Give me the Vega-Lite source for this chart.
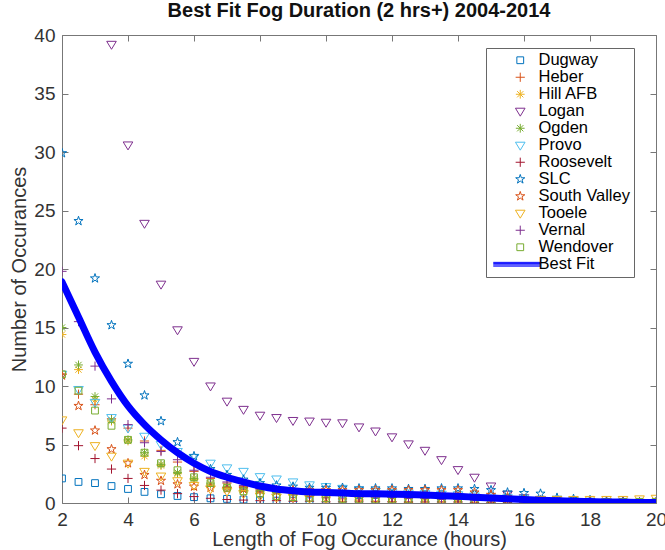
{
"$schema": "https://vega.github.io/schema/vega-lite/v6.json",
"width": 594, "height": 468,
"autosize": "none",
"padding": {"left": 62, "top": 35, "right": 9, "bottom": 47},
"background": "white",
"title": {"text": "Best Fit Fog Duration (2 hrs+) 2004-2014", "font": "Liberation Sans", "fontSize": 20, "fontWeight": "bold", "color": "#111111", "offset": 5, "anchor": "middle"},
"config": {
 "view": {"stroke": null},
 "axis": {"domainColor": "#777777", "tickColor": "#777777", "tickSize": -6, "grid": false, "labelFont": "Liberation Sans", "labelFontSize": 19, "labelColor": "#333333", "titleFont": "Liberation Sans", "titleFontSize": 20, "titleFontWeight": "normal", "titleColor": "#333333", "labelFlush": false, "labelOverlap": false},
 "axisBottom": {"labelPadding": 13, "titlePadding": 0},
 "axisLeft": {"labelPadding": 13, "titlePadding": 4}
},
"datasets": {
"fit": [
{"hours":2,"count":18.9},{"hours":2.5,"count":15.9},{"hours":3,"count":12.9},{"hours":3.5,"count":10.4},{"hours":4,"count":8.3},{"hours":4.5,"count":6.7},{"hours":5,"count":5.4},{"hours":5.5,"count":4.3},{"hours":6,"count":3.4},{"hours":6.5,"count":2.7},{"hours":7,"count":2.2},{"hours":7.5,"count":1.8},{"hours":8,"count":1.45},{"hours":8.5,"count":1.2},{"hours":9,"count":1.05},{"hours":9.5,"count":0.95},{"hours":10,"count":0.9},{"hours":10.5,"count":0.85},{"hours":11,"count":0.8},{"hours":11.5,"count":0.78},{"hours":12,"count":0.75},{"hours":12.5,"count":0.72},{"hours":13,"count":0.68},{"hours":13.5,"count":0.63},{"hours":14,"count":0.57},{"hours":14.5,"count":0.5},{"hours":15,"count":0.43},{"hours":15.5,"count":0.36},{"hours":16,"count":0.3},{"hours":16.5,"count":0.24},{"hours":17,"count":0.19},{"hours":17.5,"count":0.15},{"hours":18,"count":0.12},{"hours":18.5,"count":0.09},{"hours":19,"count":0.07},{"hours":19.5,"count":0.05},{"hours":20,"count":0.04}
],
"stations": [
{"station":"Dugway","hours":2,"count":2.1},{"station":"Dugway","hours":2.5,"count":1.8},{"station":"Dugway","hours":3,"count":1.7},{"station":"Dugway","hours":3.5,"count":1.45},{"station":"Dugway","hours":4,"count":1.2},{"station":"Dugway","hours":4.5,"count":0.95},{"station":"Dugway","hours":5,"count":0.75},{"station":"Dugway","hours":5.5,"count":0.6},{"station":"Dugway","hours":6,"count":0.5},{"station":"Dugway","hours":6.5,"count":0.4},{"station":"Dugway","hours":7,"count":0.35},{"station":"Dugway","hours":7.5,"count":0.3},{"station":"Dugway","hours":8,"count":0.25},{"station":"Dugway","hours":8.5,"count":0.2},{"station":"Dugway","hours":9,"count":0.2},{"station":"Dugway","hours":9.5,"count":0.15},{"station":"Dugway","hours":10,"count":0.15},{"station":"Dugway","hours":10.5,"count":0.15},{"station":"Dugway","hours":11,"count":0.1},{"station":"Dugway","hours":11.5,"count":0.1},{"station":"Dugway","hours":12,"count":0.1},{"station":"Dugway","hours":12.5,"count":0.1},{"station":"Dugway","hours":13,"count":0.1},{"station":"Dugway","hours":13.5,"count":0.05},{"station":"Dugway","hours":14,"count":0.05},{"station":"Dugway","hours":14.5,"count":0.05},{"station":"Dugway","hours":15,"count":0.05},{"station":"Dugway","hours":15.5,"count":0.05},{"station":"Dugway","hours":16,"count":0},{"station":"Dugway","hours":16.5,"count":0},{"station":"Dugway","hours":17,"count":0},{"station":"Dugway","hours":17.5,"count":0},{"station":"Dugway","hours":18,"count":0},{"station":"Dugway","hours":18.5,"count":0},{"station":"Dugway","hours":19,"count":0},{"station":"Dugway","hours":19.5,"count":0},{"station":"Dugway","hours":20,"count":0},
{"station":"Heber","hours":2,"count":11.0},{"station":"Heber","hours":2.5,"count":9.3},{"station":"Heber","hours":3,"count":8.4},{"station":"Heber","hours":3.5,"count":7.2},{"station":"Heber","hours":4,"count":6.4},{"station":"Heber","hours":4.5,"count":5.3},{"station":"Heber","hours":5,"count":4.5},{"station":"Heber","hours":5.5,"count":3.5},{"station":"Heber","hours":6,"count":2.7},{"station":"Heber","hours":6.5,"count":2.1},{"station":"Heber","hours":7,"count":1.7},{"station":"Heber","hours":7.5,"count":1.4},{"station":"Heber","hours":8,"count":1.1},{"station":"Heber","hours":8.5,"count":0.9},{"station":"Heber","hours":9,"count":0.7},{"station":"Heber","hours":9.5,"count":0.55},{"station":"Heber","hours":10,"count":0.45},{"station":"Heber","hours":10.5,"count":0.35},{"station":"Heber","hours":11,"count":0.25},{"station":"Heber","hours":11.5,"count":0.15},{"station":"Heber","hours":12,"count":0.1},{"station":"Heber","hours":12.5,"count":0.05},{"station":"Heber","hours":13,"count":0},{"station":"Heber","hours":13.5,"count":0},{"station":"Heber","hours":14,"count":0},{"station":"Heber","hours":14.5,"count":0},{"station":"Heber","hours":15,"count":0},{"station":"Heber","hours":15.5,"count":0},{"station":"Heber","hours":16,"count":0},{"station":"Heber","hours":16.5,"count":0},{"station":"Heber","hours":17,"count":0},{"station":"Heber","hours":17.5,"count":0},{"station":"Heber","hours":18,"count":0},{"station":"Heber","hours":18.5,"count":0},{"station":"Heber","hours":19,"count":0},{"station":"Heber","hours":19.5,"count":0},{"station":"Heber","hours":20,"count":0},
{"station":"Hill AFB","hours":2,"count":14.4},{"station":"Hill AFB","hours":2.5,"count":11.4},{"station":"Hill AFB","hours":3,"count":8.8},{"station":"Hill AFB","hours":3.5,"count":7.0},{"station":"Hill AFB","hours":4,"count":5.3},{"station":"Hill AFB","hours":4.5,"count":4.0},{"station":"Hill AFB","hours":5,"count":3.2},{"station":"Hill AFB","hours":5.5,"count":2.5},{"station":"Hill AFB","hours":6,"count":2.0},{"station":"Hill AFB","hours":6.5,"count":1.6},{"station":"Hill AFB","hours":7,"count":1.3},{"station":"Hill AFB","hours":7.5,"count":1.1},{"station":"Hill AFB","hours":8,"count":1.0},{"station":"Hill AFB","hours":8.5,"count":0.9},{"station":"Hill AFB","hours":9,"count":0.9},{"station":"Hill AFB","hours":9.5,"count":0.8},{"station":"Hill AFB","hours":10,"count":0.8},{"station":"Hill AFB","hours":10.5,"count":0.7},{"station":"Hill AFB","hours":11,"count":0.7},{"station":"Hill AFB","hours":11.5,"count":0.6},{"station":"Hill AFB","hours":12,"count":0.6},{"station":"Hill AFB","hours":12.5,"count":0.5},{"station":"Hill AFB","hours":13,"count":0.5},{"station":"Hill AFB","hours":13.5,"count":0.4},{"station":"Hill AFB","hours":14,"count":0.4},{"station":"Hill AFB","hours":14.5,"count":0.3},{"station":"Hill AFB","hours":15,"count":0.3},{"station":"Hill AFB","hours":15.5,"count":0.3},{"station":"Hill AFB","hours":16,"count":0.2},{"station":"Hill AFB","hours":16.5,"count":0.2},{"station":"Hill AFB","hours":17,"count":0.1},{"station":"Hill AFB","hours":17.5,"count":0.1},{"station":"Hill AFB","hours":18,"count":0.1},{"station":"Hill AFB","hours":18.5,"count":0.1},{"station":"Hill AFB","hours":19,"count":0.1},{"station":"Hill AFB","hours":19.5,"count":0.1},{"station":"Hill AFB","hours":20,"count":0.1},
{"station":"Logan","hours":3.5,"count":39.2},{"station":"Logan","hours":4,"count":30.6},{"station":"Logan","hours":4.5,"count":23.9},{"station":"Logan","hours":5,"count":18.7},{"station":"Logan","hours":5.5,"count":14.8},{"station":"Logan","hours":6,"count":12.1},{"station":"Logan","hours":6.5,"count":10.0},{"station":"Logan","hours":7,"count":8.7},{"station":"Logan","hours":7.5,"count":8.0},{"station":"Logan","hours":8,"count":7.5},{"station":"Logan","hours":8.5,"count":7.3},{"station":"Logan","hours":9,"count":7.05},{"station":"Logan","hours":9.5,"count":7.0},{"station":"Logan","hours":10,"count":6.9},{"station":"Logan","hours":10.5,"count":6.85},{"station":"Logan","hours":11,"count":6.5},{"station":"Logan","hours":11.5,"count":6.15},{"station":"Logan","hours":12,"count":5.65},{"station":"Logan","hours":12.5,"count":5.05},{"station":"Logan","hours":13,"count":4.5},{"station":"Logan","hours":13.5,"count":3.7},{"station":"Logan","hours":14,"count":2.85},{"station":"Logan","hours":14.5,"count":2.2},{"station":"Logan","hours":15,"count":1.45},{"station":"Logan","hours":15.5,"count":0.75},{"station":"Logan","hours":16,"count":0.45},{"station":"Logan","hours":16.5,"count":0.3},{"station":"Logan","hours":17,"count":0.2},{"station":"Logan","hours":17.5,"count":0.15},{"station":"Logan","hours":18,"count":0.1},{"station":"Logan","hours":18.5,"count":0.1},{"station":"Logan","hours":19,"count":0.05},{"station":"Logan","hours":19.5,"count":0.05},{"station":"Logan","hours":20,"count":0.05},
{"station":"Ogden","hours":2,"count":15.0},{"station":"Ogden","hours":2.5,"count":11.8},{"station":"Ogden","hours":3,"count":9.1},{"station":"Ogden","hours":3.5,"count":7.1},{"station":"Ogden","hours":4,"count":5.4},{"station":"Ogden","hours":4.5,"count":4.3},{"station":"Ogden","hours":5,"count":3.3},{"station":"Ogden","hours":5.5,"count":2.6},{"station":"Ogden","hours":6,"count":2.1},{"station":"Ogden","hours":6.5,"count":1.7},{"station":"Ogden","hours":7,"count":1.4},{"station":"Ogden","hours":7.5,"count":1.2},{"station":"Ogden","hours":8,"count":1.0},{"station":"Ogden","hours":8.5,"count":0.9},{"station":"Ogden","hours":9,"count":0.8},{"station":"Ogden","hours":9.5,"count":0.8},{"station":"Ogden","hours":10,"count":0.7},{"station":"Ogden","hours":10.5,"count":0.7},{"station":"Ogden","hours":11,"count":0.6},{"station":"Ogden","hours":11.5,"count":0.6},{"station":"Ogden","hours":12,"count":0.5},{"station":"Ogden","hours":12.5,"count":0.5},{"station":"Ogden","hours":13,"count":0.4},{"station":"Ogden","hours":13.5,"count":0.4},{"station":"Ogden","hours":14,"count":0.3},{"station":"Ogden","hours":14.5,"count":0.3},{"station":"Ogden","hours":15,"count":0.2},{"station":"Ogden","hours":15.5,"count":0.2},{"station":"Ogden","hours":16,"count":0.2},{"station":"Ogden","hours":16.5,"count":0.1},{"station":"Ogden","hours":17,"count":0.1},{"station":"Ogden","hours":17.5,"count":0.1},{"station":"Ogden","hours":18,"count":0.1},{"station":"Ogden","hours":18.5,"count":0},{"station":"Ogden","hours":19,"count":0},{"station":"Ogden","hours":19.5,"count":0},{"station":"Ogden","hours":20,"count":0},
{"station":"Provo","hours":2,"count":11.0},{"station":"Provo","hours":2.5,"count":9.7},{"station":"Provo","hours":3,"count":8.6},{"station":"Provo","hours":3.5,"count":7.3},{"station":"Provo","hours":4,"count":6.4},{"station":"Provo","hours":4.5,"count":5.7},{"station":"Provo","hours":5,"count":5.0},{"station":"Provo","hours":5.5,"count":4.4},{"station":"Provo","hours":6,"count":3.9},{"station":"Provo","hours":6.5,"count":3.4},{"station":"Provo","hours":7,"count":3.0},{"station":"Provo","hours":7.5,"count":2.7},{"station":"Provo","hours":8,"count":2.25},{"station":"Provo","hours":8.5,"count":2.05},{"station":"Provo","hours":9,"count":1.8},{"station":"Provo","hours":9.5,"count":1.55},{"station":"Provo","hours":10,"count":1.4},{"station":"Provo","hours":10.5,"count":1.25},{"station":"Provo","hours":11,"count":1.1},{"station":"Provo","hours":11.5,"count":1.0},{"station":"Provo","hours":12,"count":0.9},{"station":"Provo","hours":12.5,"count":0.85},{"station":"Provo","hours":13,"count":0.8},{"station":"Provo","hours":13.5,"count":0.75},{"station":"Provo","hours":14,"count":0.7},{"station":"Provo","hours":14.5,"count":0.6},{"station":"Provo","hours":15,"count":0.5},{"station":"Provo","hours":15.5,"count":0.45},{"station":"Provo","hours":16,"count":0.4},{"station":"Provo","hours":16.5,"count":0.3},{"station":"Provo","hours":17,"count":0.25},{"station":"Provo","hours":17.5,"count":0.2},{"station":"Provo","hours":18,"count":0.15},{"station":"Provo","hours":18.5,"count":0.1},{"station":"Provo","hours":19,"count":0.1},{"station":"Provo","hours":19.5,"count":0.05},{"station":"Provo","hours":20,"count":0.05},
{"station":"Roosevelt","hours":2,"count":6.4},{"station":"Roosevelt","hours":2.5,"count":4.9},{"station":"Roosevelt","hours":3,"count":3.8},{"station":"Roosevelt","hours":3.5,"count":2.9},{"station":"Roosevelt","hours":4,"count":2.1},{"station":"Roosevelt","hours":4.5,"count":1.5},{"station":"Roosevelt","hours":5,"count":1.1},{"station":"Roosevelt","hours":5.5,"count":0.8},{"station":"Roosevelt","hours":6,"count":0.55},{"station":"Roosevelt","hours":6.5,"count":0.4},{"station":"Roosevelt","hours":7,"count":0.3},{"station":"Roosevelt","hours":7.5,"count":0.25},{"station":"Roosevelt","hours":8,"count":0.2},{"station":"Roosevelt","hours":8.5,"count":0.2},{"station":"Roosevelt","hours":9,"count":0.15},{"station":"Roosevelt","hours":9.5,"count":0.15},{"station":"Roosevelt","hours":10,"count":0.1},{"station":"Roosevelt","hours":10.5,"count":0.1},{"station":"Roosevelt","hours":11,"count":0.1},{"station":"Roosevelt","hours":11.5,"count":0.1},{"station":"Roosevelt","hours":12,"count":0.1},{"station":"Roosevelt","hours":12.5,"count":0.1},{"station":"Roosevelt","hours":13,"count":0.1},{"station":"Roosevelt","hours":13.5,"count":0.1},{"station":"Roosevelt","hours":14,"count":0.1},{"station":"Roosevelt","hours":14.5,"count":0.05},{"station":"Roosevelt","hours":15,"count":0.05},{"station":"Roosevelt","hours":15.5,"count":0.05},{"station":"Roosevelt","hours":16,"count":0.05},{"station":"Roosevelt","hours":16.5,"count":0.05},{"station":"Roosevelt","hours":17,"count":0},{"station":"Roosevelt","hours":17.5,"count":0},{"station":"Roosevelt","hours":18,"count":0},{"station":"Roosevelt","hours":18.5,"count":0},{"station":"Roosevelt","hours":19,"count":0},{"station":"Roosevelt","hours":19.5,"count":0},{"station":"Roosevelt","hours":20,"count":0},
{"station":"SLC","hours":2,"count":29.9},{"station":"SLC","hours":2.5,"count":24.1},{"station":"SLC","hours":3,"count":19.2},{"station":"SLC","hours":3.5,"count":15.2},{"station":"SLC","hours":4,"count":11.9},{"station":"SLC","hours":4.5,"count":9.2},{"station":"SLC","hours":5,"count":7.0},{"station":"SLC","hours":5.5,"count":5.2},{"station":"SLC","hours":6,"count":4.0},{"station":"SLC","hours":6.5,"count":2.9},{"station":"SLC","hours":7,"count":2.4},{"station":"SLC","hours":7.5,"count":2.0},{"station":"SLC","hours":8,"count":1.7},{"station":"SLC","hours":8.5,"count":1.5},{"station":"SLC","hours":9,"count":1.4},{"station":"SLC","hours":9.5,"count":1.3},{"station":"SLC","hours":10,"count":1.3},{"station":"SLC","hours":10.5,"count":1.3},{"station":"SLC","hours":11,"count":1.25},{"station":"SLC","hours":11.5,"count":1.25},{"station":"SLC","hours":12,"count":1.25},{"station":"SLC","hours":12.5,"count":1.2},{"station":"SLC","hours":13,"count":1.2},{"station":"SLC","hours":13.5,"count":1.25},{"station":"SLC","hours":14,"count":1.25},{"station":"SLC","hours":14.5,"count":1.2},{"station":"SLC","hours":15,"count":1.1},{"station":"SLC","hours":15.5,"count":0.9},{"station":"SLC","hours":16,"count":0.85},{"station":"SLC","hours":16.5,"count":0.8},{"station":"SLC","hours":17,"count":0.45},{"station":"SLC","hours":17.5,"count":0.35},{"station":"SLC","hours":18,"count":0.25},{"station":"SLC","hours":18.5,"count":0.15},{"station":"SLC","hours":19,"count":0.1},{"station":"SLC","hours":19.5,"count":0.05},{"station":"SLC","hours":20,"count":0.05},
{"station":"South Valley","hours":2,"count":10.9},{"station":"South Valley","hours":2.5,"count":8.3},{"station":"South Valley","hours":3,"count":6.2},{"station":"South Valley","hours":3.5,"count":4.6},{"station":"South Valley","hours":4,"count":3.4},{"station":"South Valley","hours":4.5,"count":2.4},{"station":"South Valley","hours":5,"count":1.9},{"station":"South Valley","hours":5.5,"count":1.6},{"station":"South Valley","hours":6,"count":1.4},{"station":"South Valley","hours":6.5,"count":1.3},{"station":"South Valley","hours":7,"count":1.2},{"station":"South Valley","hours":7.5,"count":1.2},{"station":"South Valley","hours":8,"count":1.15},{"station":"South Valley","hours":8.5,"count":1.1},{"station":"South Valley","hours":9,"count":1.1},{"station":"South Valley","hours":9.5,"count":1.1},{"station":"South Valley","hours":10,"count":1.1},{"station":"South Valley","hours":10.5,"count":1.1},{"station":"South Valley","hours":11,"count":1.1},{"station":"South Valley","hours":11.5,"count":1.1},{"station":"South Valley","hours":12,"count":1.1},{"station":"South Valley","hours":12.5,"count":1.1},{"station":"South Valley","hours":13,"count":1.1},{"station":"South Valley","hours":13.5,"count":1.1},{"station":"South Valley","hours":14,"count":1.1},{"station":"South Valley","hours":14.5,"count":0.9},{"station":"South Valley","hours":15,"count":0.7},{"station":"South Valley","hours":15.5,"count":0.5},{"station":"South Valley","hours":16,"count":0.3},{"station":"South Valley","hours":16.5,"count":0.2},{"station":"South Valley","hours":17,"count":0.1},{"station":"South Valley","hours":17.5,"count":0.1},{"station":"South Valley","hours":18,"count":0.1},{"station":"South Valley","hours":18.5,"count":0.05},{"station":"South Valley","hours":19,"count":0.05},{"station":"South Valley","hours":19.5,"count":0},{"station":"South Valley","hours":20,"count":0},
{"station":"Tooele","hours":2,"count":7.1},{"station":"Tooele","hours":2.5,"count":6.0},{"station":"Tooele","hours":3,"count":4.9},{"station":"Tooele","hours":3.5,"count":4.0},{"station":"Tooele","hours":4,"count":3.4},{"station":"Tooele","hours":4.5,"count":2.7},{"station":"Tooele","hours":5,"count":2.3},{"station":"Tooele","hours":5.5,"count":1.9},{"station":"Tooele","hours":6,"count":1.5},{"station":"Tooele","hours":6.5,"count":1.2},{"station":"Tooele","hours":7,"count":1.0},{"station":"Tooele","hours":7.5,"count":0.8},{"station":"Tooele","hours":8,"count":0.6},{"station":"Tooele","hours":8.5,"count":0.5},{"station":"Tooele","hours":9,"count":0.5},{"station":"Tooele","hours":9.5,"count":0.4},{"station":"Tooele","hours":10,"count":0.4},{"station":"Tooele","hours":10.5,"count":0.4},{"station":"Tooele","hours":11,"count":0.3},{"station":"Tooele","hours":11.5,"count":0.3},{"station":"Tooele","hours":12,"count":0.3},{"station":"Tooele","hours":12.5,"count":0.3},{"station":"Tooele","hours":13,"count":0.3},{"station":"Tooele","hours":13.5,"count":0.3},{"station":"Tooele","hours":14,"count":0.3},{"station":"Tooele","hours":14.5,"count":0.3},{"station":"Tooele","hours":15,"count":0.3},{"station":"Tooele","hours":15.5,"count":0.3},{"station":"Tooele","hours":16,"count":0.3},{"station":"Tooele","hours":16.5,"count":0.3},{"station":"Tooele","hours":17,"count":0.3},{"station":"Tooele","hours":17.5,"count":0.3},{"station":"Tooele","hours":18,"count":0.3},{"station":"Tooele","hours":18.5,"count":0.3},{"station":"Tooele","hours":19,"count":0.3},{"station":"Tooele","hours":19.5,"count":0.35},{"station":"Tooele","hours":20,"count":0.4},
{"station":"Vernal","hours":2,"count":19.8},{"station":"Vernal","hours":2.5,"count":15.5},{"station":"Vernal","hours":3,"count":11.7},{"station":"Vernal","hours":3.5,"count":8.9},{"station":"Vernal","hours":4,"count":6.7},{"station":"Vernal","hours":4.5,"count":5.15},{"station":"Vernal","hours":5,"count":4.4},{"station":"Vernal","hours":5.5,"count":3.7},{"station":"Vernal","hours":6,"count":2.8},{"station":"Vernal","hours":6.5,"count":2.2},{"station":"Vernal","hours":7,"count":1.8},{"station":"Vernal","hours":7.5,"count":1.5},{"station":"Vernal","hours":8,"count":1.2},{"station":"Vernal","hours":8.5,"count":1.1},{"station":"Vernal","hours":9,"count":1.0},{"station":"Vernal","hours":9.5,"count":0.9},{"station":"Vernal","hours":10,"count":0.8},{"station":"Vernal","hours":10.5,"count":0.7},{"station":"Vernal","hours":11,"count":0.6},{"station":"Vernal","hours":11.5,"count":0.5},{"station":"Vernal","hours":12,"count":0.5},{"station":"Vernal","hours":12.5,"count":0.4},{"station":"Vernal","hours":13,"count":0.4},{"station":"Vernal","hours":13.5,"count":0.3},{"station":"Vernal","hours":14,"count":0.3},{"station":"Vernal","hours":14.5,"count":0.2},{"station":"Vernal","hours":15,"count":0.2},{"station":"Vernal","hours":15.5,"count":0.2},{"station":"Vernal","hours":16,"count":0.1},{"station":"Vernal","hours":16.5,"count":0.1},{"station":"Vernal","hours":17,"count":0.1},{"station":"Vernal","hours":17.5,"count":0.1},{"station":"Vernal","hours":18,"count":0.1},{"station":"Vernal","hours":18.5,"count":0.1},{"station":"Vernal","hours":19,"count":0.1},{"station":"Vernal","hours":19.5,"count":0.1},{"station":"Vernal","hours":20,"count":0.1},
{"station":"Wendover","hours":2,"count":11.0},{"station":"Wendover","hours":2.5,"count":9.6},{"station":"Wendover","hours":3,"count":7.9},{"station":"Wendover","hours":3.5,"count":6.6},{"station":"Wendover","hours":4,"count":5.4},{"station":"Wendover","hours":4.5,"count":4.3},{"station":"Wendover","hours":5,"count":3.4},{"station":"Wendover","hours":5.5,"count":2.8},{"station":"Wendover","hours":6,"count":2.2},{"station":"Wendover","hours":6.5,"count":1.7},{"station":"Wendover","hours":7,"count":1.3},{"station":"Wendover","hours":7.5,"count":1.0},{"station":"Wendover","hours":8,"count":0.8},{"station":"Wendover","hours":8.5,"count":0.6},{"station":"Wendover","hours":9,"count":0.5},{"station":"Wendover","hours":9.5,"count":0.45},{"station":"Wendover","hours":10,"count":0.4},{"station":"Wendover","hours":10.5,"count":0.35},{"station":"Wendover","hours":11,"count":0.3},{"station":"Wendover","hours":11.5,"count":0.3},{"station":"Wendover","hours":12,"count":0.3},{"station":"Wendover","hours":12.5,"count":0.3},{"station":"Wendover","hours":13,"count":0.25},{"station":"Wendover","hours":13.5,"count":0.25},{"station":"Wendover","hours":14,"count":0.2},{"station":"Wendover","hours":14.5,"count":0.2},{"station":"Wendover","hours":15,"count":0.2},{"station":"Wendover","hours":15.5,"count":0.15},{"station":"Wendover","hours":16,"count":0.15},{"station":"Wendover","hours":16.5,"count":0.1},{"station":"Wendover","hours":17,"count":0.1},{"station":"Wendover","hours":17.5,"count":0.1},{"station":"Wendover","hours":18,"count":0.1},{"station":"Wendover","hours":18.5,"count":0.1},{"station":"Wendover","hours":19,"count":0.1},{"station":"Wendover","hours":19.5,"count":0.1},{"station":"Wendover","hours":20,"count":0.1}
]
},
"layer": [
{
 "data": {"name": "stations"},
 "mark": {"type": "point", "filled": false, "size": 64, "strokeWidth": 1, "opacity": 1, "clip": true},
 "encoding": {
  "x": {"field": "hours", "type": "quantitative", "scale": {"domain": [2, 20], "nice": false}, "axis": {"orient": "bottom", "values": [2,4,6,8,10,12,14,16,18,20], "title": "Length of Fog Occurance (hours)"}},
  "y": {"field": "count", "type": "quantitative", "scale": {"domain": [0, 40], "nice": false}, "axis": {"orient": "left", "values": [0,5,10,15,20,25,30,35,40], "title": "Number of Occurances"}},
  "color": {"field": "station", "type": "nominal",
   "scale": {"domain": ["Dugway","Heber","Hill AFB","Logan","Ogden","Provo","Roosevelt","SLC","South Valley","Tooele","Vernal","Wendover","Best Fit"],
             "range": ["#0072BD","#D95319","#EDB120","#7E2F8E","#77AC30","#4DBEEE","#A2142F","#0072BD","#D95319","#EDB120","#7E2F8E","#77AC30","#0000FF"]},
   "legend": {"orient": "none", "legendX": 424, "legendY": 13, "title": null, "symbolSize": 64, "symbolStrokeWidth": 1, "symbolOffset": 22, "labelFont": "Liberation Sans", "labelFontSize": 16.5, "labelColor": "#000000", "labelOffset": 10, "padding": 4, "rowPadding": 0, "strokeColor": "#666666", "fillColor": "#ffffff", "labelLimit": 300}},
  "shape": {"field": "station", "type": "nominal",
   "scale": {"domain": ["Dugway","Heber","Hill AFB","Logan","Ogden","Provo","Roosevelt","SLC","South Valley","Tooele","Vernal","Wendover","Best Fit"],
             "range": [
              "M-0.85,-0.85H0.85V0.85H-0.85Z",
              "M-1.15,0H1.15M0,-1.15V1.15",
              "M-1.1,0H1.1M0,-1.1V1.1M-0.78,-0.78L0.78,0.78M-0.78,0.78L0.78,-0.78",
              "M-1.2,-0.76H1.2L0,1.23Z",
              "M-1.1,0H1.1M0,-1.1V1.1M-0.78,-0.78L0.78,0.78M-0.78,0.78L0.78,-0.78",
              "M-1.2,-0.76H1.2L0,1.23Z",
              "M-1.15,0H1.15M0,-1.15V1.15",
              "M0,-1.2L0.27,-0.37L1.14,-0.37L0.435,0.14L0.705,0.97L0,0.458L-0.705,0.97L-0.435,0.14L-1.14,-0.37L-0.27,-0.37Z",
              "M0,-1.2L0.27,-0.37L1.14,-0.37L0.435,0.14L0.705,0.97L0,0.458L-0.705,0.97L-0.435,0.14L-1.14,-0.37L-0.27,-0.37Z",
              "M-1.2,-0.76H1.2L0,1.23Z",
              "M-1.15,0H1.15M0,-1.15V1.15",
              "M-0.85,-0.85H0.85V0.85H-0.85Z",
              "M-6.75,-0.47H5M-6.75,-0.16H5M-6.75,0.16H5M-6.75,0.47H5"
             ]},
   "legend": {"orient": "none", "legendX": 424, "legendY": 13, "title": null, "symbolSize": 64, "symbolStrokeWidth": 1, "symbolOffset": 22, "labelFont": "Liberation Sans", "labelFontSize": 16.5, "labelColor": "#000000", "labelOffset": 10, "padding": 4, "rowPadding": 0, "strokeColor": "#666666", "fillColor": "#ffffff", "labelLimit": 300}}
 }
},
{
 "data": {"name": "fit"},
 "mark": {"type": "line", "color": "#0000FF", "strokeWidth": 7, "interpolate": "monotone", "strokeCap": "round", "clip": true},
 "encoding": {
  "x": {"field": "hours", "type": "quantitative", "scale": {"domain": [2, 20], "nice": false}, "axis": {"orient": "top", "values": [2,4,6,8,10,12,14,16,18,20], "labels": false, "title": null}},
  "y": {"field": "count", "type": "quantitative", "scale": {"domain": [0, 40], "nice": false}, "axis": {"orient": "right", "values": [0,5,10,15,20,25,30,35,40], "labels": false, "title": null}}
 }
}
],
"resolve": {"axis": {"x": "independent", "y": "independent"}}
}
